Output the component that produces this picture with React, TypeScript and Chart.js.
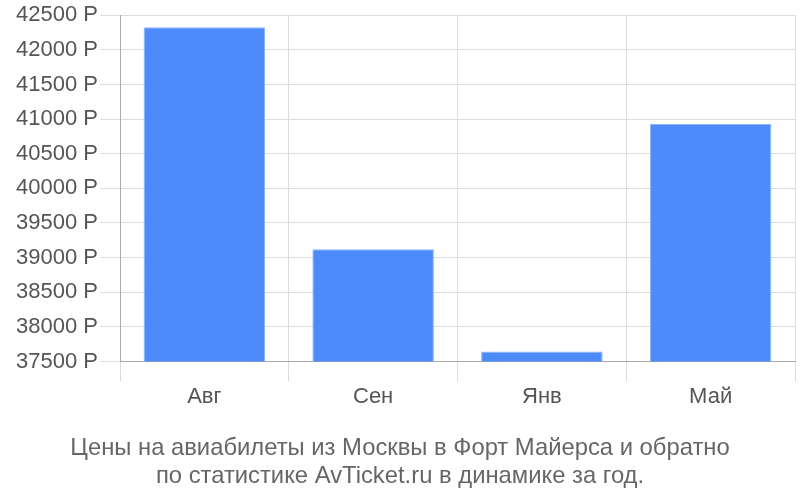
import React, { useEffect, useRef } from "react";
import { Chart, registerables } from "chart.js";

Chart.register(...registerables);

const categories = ["Авг", "Сен", "Янв", "Май"];
const prices = [42325, 39120, 37645, 40930];
const yTicks = [37500, 38000, 38500, 39000, 39500, 40000, 40500, 41000, 41500, 42000, 42500];
const titleLines = [
  "Цены на авиабилеты из Москвы в Форт Майерса и обратно",
  "по статистике AvTicket.ru в динамике за год.",
];

const FONT = "Liberation Sans, Arial, sans-serif";

export default function App() {
  const ref = useRef<HTMLCanvasElement | null>(null);
  useEffect(() => {
    document.body.style.margin = "0";
    const canvas = ref.current;
    if (!canvas) return;
    const chart = new Chart(canvas, {
      type: "bar",
      data: {
        labels: categories,
        datasets: [
          {
            data: prices,
            backgroundColor: "#4c8bf9",
            borderColor: "#8db3fb",
            borderWidth: 1,
          },
        ],
      },
      options: {
        animation: false,
        responsive: false,
        layout: { padding: { top: 4, right: 5, left: 5, bottom: 9 } },
        plugins: {
          legend: { display: false },
          tooltip: { enabled: false },
          title: {
            display: true,
            position: "bottom",
            text: titleLines,
            color: "#666",
            font: { family: FONT, size: 23.8, weight: "normal" },
            padding: { top: 22, bottom: 0 },
            lineHeight: 1.22,
          },
        },
        scales: {
          x: {
            grid: { color: "#dddddd", tickLength: 20, offset: true },
            border: { color: "#aaaaaa" },
            ticks: {
              color: "#555",
              font: { family: FONT, size: 22 },
              padding: 2,
            },
          },
          y: {
            min: 37500,
            max: 42500,
            afterBuildTicks: (axis: any) => {
              axis.ticks = yTicks.map((v) => ({ value: v }));
            },
            afterFit: (axis: any) => {
              axis.width = 115;
            },
            grid: { color: "#dddddd", tickLength: 20 },
            border: { color: "#aaaaaa" },
            ticks: {
              color: "#555",
              font: { family: FONT, size: 22 },
              padding: 2,
              callback: (v: any) => v + " Р",
            },
          },
        },
      },
    });
    return () => chart.destroy();
  }, []);
  return <canvas ref={ref} width={800} height={500} style={{ display: "block" }} />;
}
